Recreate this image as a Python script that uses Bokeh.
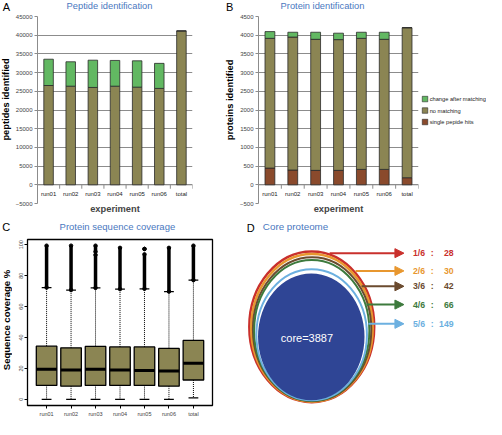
import math
from bokeh.plotting import figure
from bokeh.layouts import row, column
from bokeh.models import (Range1d, SingleIntervalTicker, FixedTicker, Arrow, NormalHead,
                          ColumnDataSource)
from bokeh.core.properties import value
from bokeh.embed import file_html
from bokeh.resources import INLINE

FONT = "Liberation Sans"
TITLE_BLUE = "#4a78c0"
OLIVE = "#8b8553"
GREEN = "#62b862"
BROWN = "#8a4a2c"
GRID = "#8c8c8c"
BAR_LINE = "#2a2a2a"

# ---------------- data ----------------
experiments = ["run01", "run02", "run03", "run04", "run05", "run06", "total"]

# A: peptides identified
pep_no_matching = [26550, 26370, 26030, 26370, 26110, 25770, 41140]
pep_change_after = [7030, 6520, 7290, 6880, 7040, 6700, 0]

# B: proteins identified
prot_single_hits = [447, 395, 386, 386, 412, 412, 189]
prot_no_matching = [3469, 3555, 3504, 3496, 3504, 3478, 4011]
prot_change_after = [180, 129, 189, 172, 163, 189, 0]
legend_labels = ["change after matching", "no matching", "single pepide hits"]
legend_colors = [GREEN, OLIVE, BROWN]

# C: protein sequence coverage (%)
cov_whisker_lo = [0.0, 0.0, 0.0, 0.0, 0.0, 0.0, 0.9]
cov_q1 = [9.0, 8.5, 9.0, 9.0, 9.0, 8.5, 12.5]
cov_median = [19.5, 18.9, 19.5, 18.9, 18.7, 18.3, 23.4]
cov_q3 = [34.4, 33.3, 34.2, 33.9, 33.9, 32.9, 38.1]
cov_whisker_hi = [72.3, 70.7, 72.1, 71.3, 71.5, 69.7, 77.1]
outlier_exp = ["run01", "run02", "run03", "run03", "run04", "run05", "run05", "run06", "total"]
outlier_from = [72.3, 70.7, 72.1, 95.5, 71.3, 71.5, 97.3, 69.7, 77.1]
outlier_to = [99.4, 99.4, 93.5, 99.4, 98.0, 93.8, 97.3, 98.0, 99.4]

# D: core proteome
core_count = 3887
level_labels = ["1/6", "2/6", "3/6", "4/6", "5/6"]
level_counts = [28, 30, 42, 66, 149]
level_colors = ["#c9302c", "#e8972f", "#6b4b2f", "#3d7a3d", "#6cb0e0"]

idx = list(range(1, len(experiments) + 1))

# page-pixel sketch areas (texts outside the plot frames, diagram D)
SX = 486 / 502
SY = 419 / 435


def sketch(width, height, cx0, cy0):
    p = figure(width=width, height=height,
               x_range=Range1d(cx0 / SX, (cx0 + width) / SX),
               y_range=Range1d((cy0 + height) / SY, cy0 / SY),
               x_axis_type=None, y_axis_type=None, output_backend="svg",
               toolbar_location=None, min_border=0)
    p.outline_line_color = None
    return p


def put_text(p, x, y, text, size, color="black", bold=False, align="left", angle=0.0):
    p.text(x=[x], y=[y], text=[text], text_color=color, text_font=value(FONT),
           text_font_size=size, text_font_style="bold" if bold else "normal",
           text_align=align, text_baseline="middle", angle=angle)


def bar_panel(width, min_left, min_right, ymax, ystep):
    p = figure(width=width, height=204, x_range=Range1d(0.5, len(experiments) + 0.5),
               y_range=Range1d(-ystep, ymax), output_backend="svg", toolbar_location=None,
               min_border_left=min_left, min_border_right=min_right,
               min_border_top=3, min_border_bottom=14)
    p.outline_line_color = None
    p.xgrid.visible = False
    yax = p.yaxis[0]
    yax.ticker = SingleIntervalTicker(interval=ystep, num_minor_ticks=0)
    p.ygrid.grid_line_color = GRID
    p.ygrid.grid_line_width = 1
    yax.axis_line_color = GRID
    yax.major_tick_line_color = GRID
    yax.major_tick_out = 3
    yax.major_tick_in = 0
    yax.minor_tick_out = 0
    yax.minor_tick_in = 0
    yax.major_label_text_font = FONT
    yax.major_label_text_font_size = "6px"
    yax.major_label_standoff = 2
    xax = p.xaxis[0]
    xax.ticker = FixedTicker(ticks=[])
    xax.axis_line_color = None
    xax.major_tick_out = 0
    xax.major_tick_in = 0
    xax.major_label_standoff = 0
    xax.axis_label = "experiment"
    xax.axis_label_text_font = FONT
    xax.axis_label_text_font_style = "bold"
    xax.axis_label_text_font_size = "9.3px"
    xax.axis_label_standoff = 0
    # category axis on the zero line
    bounds = [i - 0.5 for i in idx] + [idx[-1] + 0.5]
    p.segment(x0=bounds[0], x1=bounds[-1], y0=0, y1=0, line_color=GRID, line_width=1)
    p.segment(x0=bounds, x1=bounds, y0=[0] * len(bounds), y1=[-ystep * 0.21] * len(bounds),
              line_color=GRID, line_width=1)
    p.text(x=idx, y=[-ystep * 0.48] * len(idx), text=experiments, text_font=value(FONT),
           text_font_size="6px", text_align="center", text_baseline="middle", text_color="#222222")
    return p


# ---------------- top header (letters + titles) ----------------
hTop = sketch(486, 13, 0, 0)
put_text(hTop, 6, 7.0, "A", "11px", align="center")
put_text(hTop, 68.3, 5.8, "Peptide identification", "9.3px", color=TITLE_BLUE)
put_text(hTop, 236.7, 7.0, "B", "11px", align="center")
put_text(hTop, 289.3, 5.8, "Protein identification", "9.3px", color=TITLE_BLUE)

# ---------------- A ----------------
sA = sketch(12, 204, 0, 13)
put_text(sA, 6.0, 107.5, "peptides identified", "9.3px", bold=True, align="center",
         angle=math.pi / 2)
pA = bar_panel(209, 23, 29, 45000, 5000)
srcA = ColumnDataSource(dict(x=idx, no_matching=pep_no_matching, change_after=pep_change_after))
pA.vbar_stack(["no_matching", "change_after"], x="x", width=0.43, source=srcA,
              fill_color=[OLIVE, GREEN], line_color=BAR_LINE, line_width=0.8)

# ---------------- B ----------------
sB = sketch(15, 204, 221, 13)
put_text(sB, 237.4, 108, "proteins identified", "9.3px", bold=True, align="center",
         angle=math.pi / 2)
pB = bar_panel(184, 20, 2, 4500, 500)
srcB = ColumnDataSource(dict(x=idx, single=prot_single_hits, no_matching=prot_no_matching,
                             change_after=prot_change_after))
pB.vbar_stack(["single", "no_matching", "change_after"], x="x", width=0.43, source=srcB,
              fill_color=[BROWN, OLIVE, GREEN], line_color=BAR_LINE, line_width=0.8)

# legend of B
lB = sketch(66, 204, 420, 13)
legend_y = [107, 120, 133]
lB.scatter(x=[438.5] * 3, y=legend_y, marker="square", size=5.5, fill_color=legend_colors,
           line_color=BAR_LINE, line_width=0.6)
lB.text(x=[443.3] * 3, y=legend_y, text=legend_labels, text_font=value(FONT),
        text_font_size="5.7px", text_align="left", text_baseline="middle",
        text_color="#222222")

# ---------------- C ----------------
hC = sketch(227, 15, 0, 217)
put_text(hC, 5.8, 235, "C", "11px", align="center")
put_text(hC, 61, 235, "Protein sequence coverage", "9.5px", color=TITLE_BLUE)
sC = sketch(12, 187, 0, 232)
put_text(sC, 6.2, 335, "Sequence coverage %", "9.5px", bold=True, align="center",
         angle=math.pi / 2)

pC = figure(width=215, height=187, x_range=Range1d(0.22, 7.78), y_range=Range1d(-4, 103.4),
            output_backend="svg", toolbar_location=None, min_border_left=15,
            min_border_right=15, min_border_top=7, min_border_bottom=14)
pC.outline_line_color = "black"
pC.outline_line_width = 1.3
pC.grid.visible = False
xC = pC.xaxis[0]
xC.ticker = FixedTicker(ticks=idx)
xC.major_label_overrides = {i: name for i, name in zip(idx, experiments)}
xC.axis_line_color = None
xC.major_tick_out = 3
xC.major_tick_in = 0
xC.major_label_standoff = 2
xC.major_label_text_font = FONT
xC.major_label_text_font_size = "5.5px"
yC = pC.yaxis[0]
yC.ticker = FixedTicker(ticks=[0, 20, 40, 60, 80, 100])
yC.bounds = (0, 100)
yC.axis_line_color = None
yC.major_tick_out = 3
yC.major_tick_in = 0
yC.major_label_orientation = "parallel"
yC.major_label_standoff = 1
yC.major_label_text_font = FONT
yC.major_label_text_font_size = "5.5px"

cap_half = 0.2
box_half = 0.42
pos = {name: i for i, name in zip(idx, experiments)}
# whiskers (dotted)
pC.segment(x0=idx, x1=idx, y0=cov_q3, y1=cov_whisker_hi, line_color="black",
           line_width=1, line_dash="1 1")
pC.segment(x0=idx, x1=idx, y0=cov_q1, y1=cov_whisker_lo, line_color="black",
           line_width=1, line_dash="1 1")
# staples
pC.segment(x0=[i - cap_half for i in idx], x1=[i + cap_half for i in idx], y0=cov_whisker_hi,
           y1=cov_whisker_hi, line_color="black", line_width=1.3)
pC.segment(x0=[i - cap_half for i in idx], x1=[i + cap_half for i in idx], y0=cov_whisker_lo,
           y1=cov_whisker_lo, line_color="black", line_width=1.3)
# outliers (dense columns of points)
ox = [pos[e] for e in outlier_exp]
pC.segment(x0=ox, x1=ox, y0=outlier_from, y1=outlier_to, line_color="black", line_width=3.5)
pC.scatter(x=ox + ox, y=outlier_from + outlier_to, size=3.5, fill_color="black",
           line_color="black")
# boxes
pC.vbar(x=idx, width=2 * box_half, bottom=cov_q1, top=cov_q3, fill_color=OLIVE,
        line_color="black", line_width=1.3)
pC.segment(x0=[i - box_half for i in idx], x1=[i + box_half for i in idx], y0=cov_median,
           y1=cov_median, line_color="black", line_width=3)

# ---------------- D ----------------
pD = sketch(259, 202, 227, 217)
ring_x = [321.5, 321.75, 321.85, 321.5, 321.4]
ring_y = [338.75, 339.9, 341.25, 342.5, 347.0]
ring_w = [129.0, 125.5, 122.3, 119.0, 114.2]
ring_h = [156.5, 153.2, 149.5, 146.0, 136.0]
ring_lw = [2.5, 2.5, 2.0, 2.0, 2.0]
pD.ellipse(x=ring_x, y=ring_y, width=ring_w, height=ring_h, fill_color=None,
           line_color=level_colors, line_width=ring_lw)
pD.ellipse(x=[321.0], y=[349.2], width=[110.0], height=[131.7], fill_color="#2f4595",
           line_color=None)
arrow_y = [262.3, 280.7, 296.7, 315.7, 335.7]
arrow_x0 = [340.0, 366.7, 373.0, 378.0, 380.0]
arrow_x1 = 416.7
for c, y0, x0 in zip(level_colors, arrow_y, arrow_x0):
    pD.add_layout(Arrow(end=NormalHead(size=9, fill_color=c, line_color=c, line_width=1),
                        x_start=x0, y_start=y0, x_end=arrow_x1, y_end=y0,
                        line_color=c, line_width=2))
pD.text(x=[426] * 5, y=arrow_y, text=level_labels, text_color=level_colors,
        text_font=value(FONT), text_font_style="bold", text_font_size="8.7px",
        text_align="left", text_baseline="middle")
pD.text(x=[446] * 5, y=arrow_y, text=[":"] * 5, text_color=level_colors,
        text_font=value(FONT), text_font_style="bold", text_font_size="8.7px",
        text_align="center", text_baseline="middle")
pD.text(x=[468] * 5, y=arrow_y, text=[str(v) for v in level_counts], text_color=level_colors,
        text_font=value(FONT), text_font_style="bold", text_font_size="8.7px",
        text_align="right", text_baseline="middle")
put_text(pD, 316.5, 350, "core=%d" % core_count, "11px", color="white", align="center")
put_text(pD, 271, 235, "Core proteome", "9.8px", color=TITLE_BLUE)
put_text(pD, 258.5, 236, "D", "11px", align="center")

top = column(hTop, row(sA, pA, sB, pB, lB))
bottom = row(column(hC, row(sC, pC)), pD)
layout = column(top, bottom)
open("out.html", "w").write(file_html(layout, INLINE))
